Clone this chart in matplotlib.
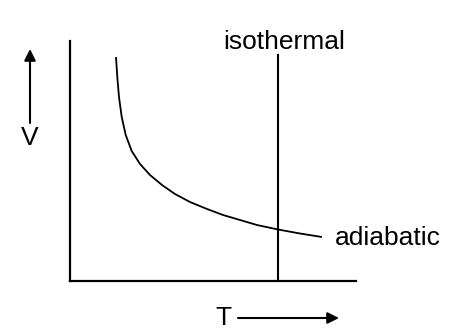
import matplotlib
matplotlib.use("Agg")
import matplotlib.pyplot as plt

# Adiabatic curve (T, V), arbitrary units 0..10
adiabatic_T = [1.608, 1.654, 1.713, 1.808, 1.948, 2.157, 2.448, 2.797, 3.217, 3.671,
               4.196, 4.790, 5.350, 5.944, 6.538, 7.273, 8.042, 8.811]
adiabatic_V = [9.333, 8.500, 7.667, 6.833, 6.083, 5.417, 4.875, 4.417, 4.000, 3.625,
               3.292, 3.000, 2.750, 2.542, 2.333, 2.146, 1.979, 1.833]
isothermal_T = 7.27
isothermal_Vtop = 9.42

plt.rcParams['font.family'] = ['Liberation Sans', 'DejaVu Sans']

W, H = 457, 332
fig = plt.figure(figsize=(W / 100, H / 100), dpi=100)
ax = fig.add_axes([70 / W, (H - 281) / H, (356 - 70) / W, (281 - 41) / H])
ax.set_xlim(0, 10)
ax.set_ylim(0, 10)
ax.set_xticks([])
ax.set_yticks([])
for s in ['top', 'right']:
    ax.spines[s].set_visible(False)
for s in ['left', 'bottom']:
    ax.spines[s].set_linewidth(1.6)

ax.plot(adiabatic_T, adiabatic_V, color='black', lw=1.3, solid_capstyle='butt',
        solid_joinstyle='round')
ax.plot([isothermal_T, isothermal_T], [0, isothermal_Vtop], color='black', lw=1.5)

fs = 19
fig.text(284 / W, 1 - 42 / H, 'isothermal', fontsize=fs, ha='center', va='center')
fig.text(388 / W, 1 - 238 / H, 'adiabatic', fontsize=fs, ha='center', va='center')
fig.text(30 / W, 1 - 138 / H, 'V', fontsize=fs, ha='center', va='center')
fig.text(223 / W, 1 - 318 / H, 'T', fontsize=fs, ha='center', va='center')

ap = dict(arrowstyle='-|>', color='black', lw=1.5, mutation_scale=17, shrinkA=0, shrinkB=0)
fig.add_artist(matplotlib.patches.FancyArrowPatch((30, H - 123), (30, H - 49),
               transform=None, **ap))
fig.add_artist(matplotlib.patches.FancyArrowPatch((238, H - 318), (339, H - 318),
               transform=None, **ap))

fig.savefig('out.png', dpi=100)
